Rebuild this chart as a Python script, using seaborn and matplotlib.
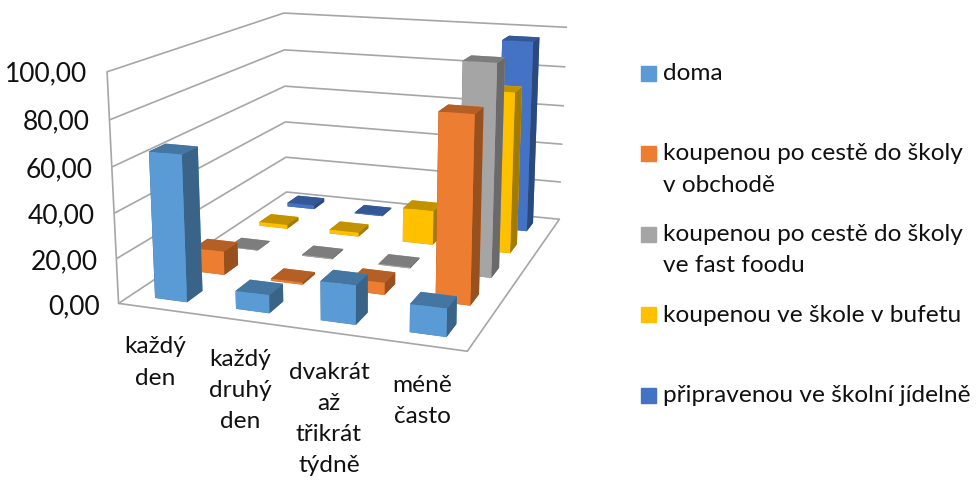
import matplotlib
matplotlib.use('Agg')
import matplotlib.pyplot as plt
import numpy as np
import seaborn as sns
from matplotlib.patches import Rectangle
from matplotlib.transforms import ScaledTranslation

categories = ['každý\nden', 'každý\ndruhý\nden', 'dvakrát\naž\ntřikrát\ntýdně', 'méně\nčasto']
places = ['doma', 'koupenou po cestě do školy\nv obchodě', 'koupenou po cestě do školy\nve fast foodu',
          'koupenou ve škole v bufetu', 'připravenou ve školní jídelně']
doma = [65.0, 8.0, 17.0, 12.0]
obchod = [11.0, 1.0, 5.5, 83.0]
fast_food = [0.3, 0.5, 0.5, 98.0]
bufet = [2.0, 2.0, 17.0, 78.0]
jidelna = [2.0, 0.5, 1.0, 96.0]
series = [doma, obchod, fast_food, bufet, jidelna]
colors = ['#5b9bd5', '#ed7d31', '#a5a5a5', '#ffc000', '#4472c4']
z_ticks = [0, 20, 40, 60, 80, 100]

sns.set_style('white')
plt.rcParams['font.family'] = ['Lato', 'DejaVu Sans']
TEXT = '#111111'
LINE = '#a6a6a6'

fig = plt.figure(figsize=(9.78, 4.8), dpi=100)
ax = fig.add_axes([81.0 / 978, 46.0 / 480, 544.4 / 978, 544.4 / 480], projection='3d')
ax.patch.set_alpha(0)
ax.set_proj_type('persp', focal_length=0.4328)
ax.view_init(elev=14.22, azim=-70.35)
ax.set_box_aspect((1, 1.1984, 0.6531))

# front, top and side faces get their own shade, like the office 3d bars
for s, vals in enumerate(series):
    base = np.array(matplotlib.colors.to_rgb(colors[s]))
    face_cols = [base * 0.76, base * 0.76, base, base, base * 0.64, base * 0.64]
    for c, v in enumerate(vals):
        ax.bar3d(c + 0.3, s + 0.3, 0, 0.4, 0.4, v, color=face_cols, shade=False, linewidth=0)

ax.set_xlim(0, 4)
ax.set_ylim(0, 5)
ax.set_zlim(0, 100)
# labels sit a bit right of the category centre in the reference
ax.set_xticks(np.arange(4) + 0.63)
ax.set_xticklabels(categories, fontsize=17.6, color=TEXT, linespacing=1.6)
ax.set_yticks([])
ax.set_zticks(z_ticks)
ax.set_zticklabels([f'{t:.2f}'.replace('.', ',') for t in z_ticks], fontsize=19, color=TEXT, ha='right', va='center')
ax.tick_params(axis='x', length=0, pad=6)
ax.tick_params(axis='z', length=0, pad=-1)
ax.zaxis.set_ticks_position('lower')

# nudge the value labels up a little
nudge = ScaledTranslation(0, 10 / 72, fig.dpi_scale_trans)
for tick in ax.zaxis.get_major_ticks():
    tick.label1.set_transform(tick.label1.get_transform() + nudge)

# only the walls keep gridlines
for a in (ax.xaxis, ax.yaxis):
    a._axinfo['grid']['color'] = (1, 1, 1, 0)
for a in (ax.xaxis, ax.yaxis, ax.zaxis):
    a._axinfo['tick']['inward_factor'] = 0
    a._axinfo['tick']['outward_factor'] = 0
    a.line.set_color(LINE)
    a.line.set_linewidth(1.2)
    a.set_pane_color((1, 1, 1, 0))
    a.pane.set_edgecolor((1, 1, 1, 0))
ax.zaxis._axinfo['grid']['color'] = LINE
ax.zaxis._axinfo['grid']['linewidth'] = 1.2

# legend rows sit at an even step, so they are placed by hand
for i, (name, col) in enumerate(zip(places, colors)):
    y = 1 - (73 + 80.5 * i) / 480
    fig.add_artist(Rectangle((641 / 978, y - 7.5 / 480), 15 / 978, 15 / 480, color=col, transform=fig.transFigure))
    fig.text(663 / 978, y + 10 / 480, name, fontsize=17.6, color=TEXT, va='top', linespacing=1.6)

fig.savefig('out.png', dpi=100)
